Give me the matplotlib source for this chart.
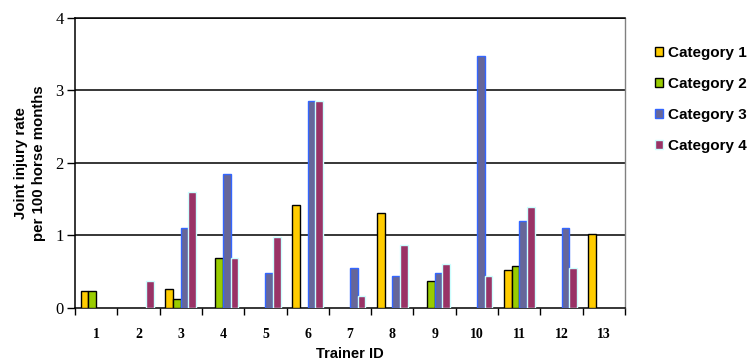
import numpy as np
import matplotlib
matplotlib.use("Agg")
import matplotlib.pyplot as plt
from matplotlib.patches import Patch

# Trainer IDs and injury rates for each category
trainers = ["1", "2", "3", "4", "5", "6", "7", "8", "9", "10", "11", "12", "13"]
category_1 = [0.23, 0, 0.25, 0, 0, 1.42, 0, 1.31, 0, 0, 0.52, 0, 1.01]
category_2 = [0.23, 0, 0.12, 0.69, 0, 0, 0, 0, 0.36, 0, 0.58, 0, 0]
category_3 = [0, 0, 1.10, 1.85, 0.48, 2.85, 0.55, 0.44, 0.48, 3.47, 1.20, 1.10, 0]
category_4 = [0, 0.36, 1.60, 0.68, 0.97, 2.85, 0.16, 0.86, 0.60, 0.43, 1.39, 0.54, 0]
series_names = ["Category 1", "Category 2", "Category 3", "Category 4"]
y_ticks = [0, 1, 2, 3, 4]

fills = ["#FFCC00", "#99CC00", "#666699", "#993366"]
edges = ["#000000", "#000000", "#3366FF", "#CCFFFF"]

fig = plt.figure(figsize=(7.47, 3.63), dpi=100)
ax = fig.add_axes([75 / 747, 1 - 307.5 / 363, 550 / 747, 289.5 / 363])

x = np.arange(1, len(trainers) + 1)
w = 1 / 5.5
all_series = [category_1, category_2, category_3, category_4]
for i, vals in enumerate(all_series):
    vals = np.asarray(vals, dtype=float)
    keep = vals > 0
    ax.bar(x[keep] + (i - 1.5) * w, vals[keep], width=w, color=fills[i],
           edgecolor=edges[i], linewidth=1.0, zorder=3)

ax.set_xlim(0.5, len(trainers) + 0.5)
ax.set_ylim(0, 4)

# horizontal gridlines
for yv in y_ticks[1:]:
    ax.axhline(yv, color="black", linewidth=1.1, zorder=1)

ax.set_yticks(y_ticks)
ax.set_yticklabels([str(v) for v in y_ticks], fontfamily="Liberation Serif",
                   fontsize=12)
ax.set_xticks(np.arange(0.5, len(trainers) + 1.5, 1.0))
ax.set_xticklabels([])
ax.set_xticks(x, minor=True)
ax.set_xticklabels(trainers, minor=True, fontfamily="Liberation Serif",
                   fontweight="bold", fontsize=10)
ax.tick_params(axis="x", which="minor", length=0, pad=15)
ax.tick_params(axis="x", which="major", direction="out", length=5, width=1)
ax.tick_params(axis="y", direction="out", length=6, width=1, pad=2)

for side in ["left", "bottom", "top"]:
    ax.spines[side].set_color("black")
    ax.spines[side].set_linewidth(1.1)
ax.spines["right"].set_color("#808080")
ax.spines["right"].set_linewidth(1.0)

ax.set_xlabel("Trainer ID", fontfamily="Liberation Sans", fontweight="bold",
              fontsize=10.5, labelpad=4)
ax.set_ylabel("Joint injury rate\nper 100 horse months",
              fontfamily="Liberation Sans", fontweight="bold", fontsize=10.8,
              labelpad=7, linespacing=1.3)

handles = [Patch(facecolor=fills[i], edgecolor=edges[i], linewidth=1.0)
           for i in range(4)]
fig.legend(handles, series_names, loc="upper left",
           bbox_to_anchor=(655 / 747, 1 - 46 / 363), frameon=False,
           prop={"family": "Liberation Sans", "weight": "bold", "size": 11},
           handlelength=0.55, handleheight=0.55, handletextpad=0.3,
           labelspacing=1.11, borderaxespad=0, borderpad=0)

fig.savefig("out.png", dpi=100)
